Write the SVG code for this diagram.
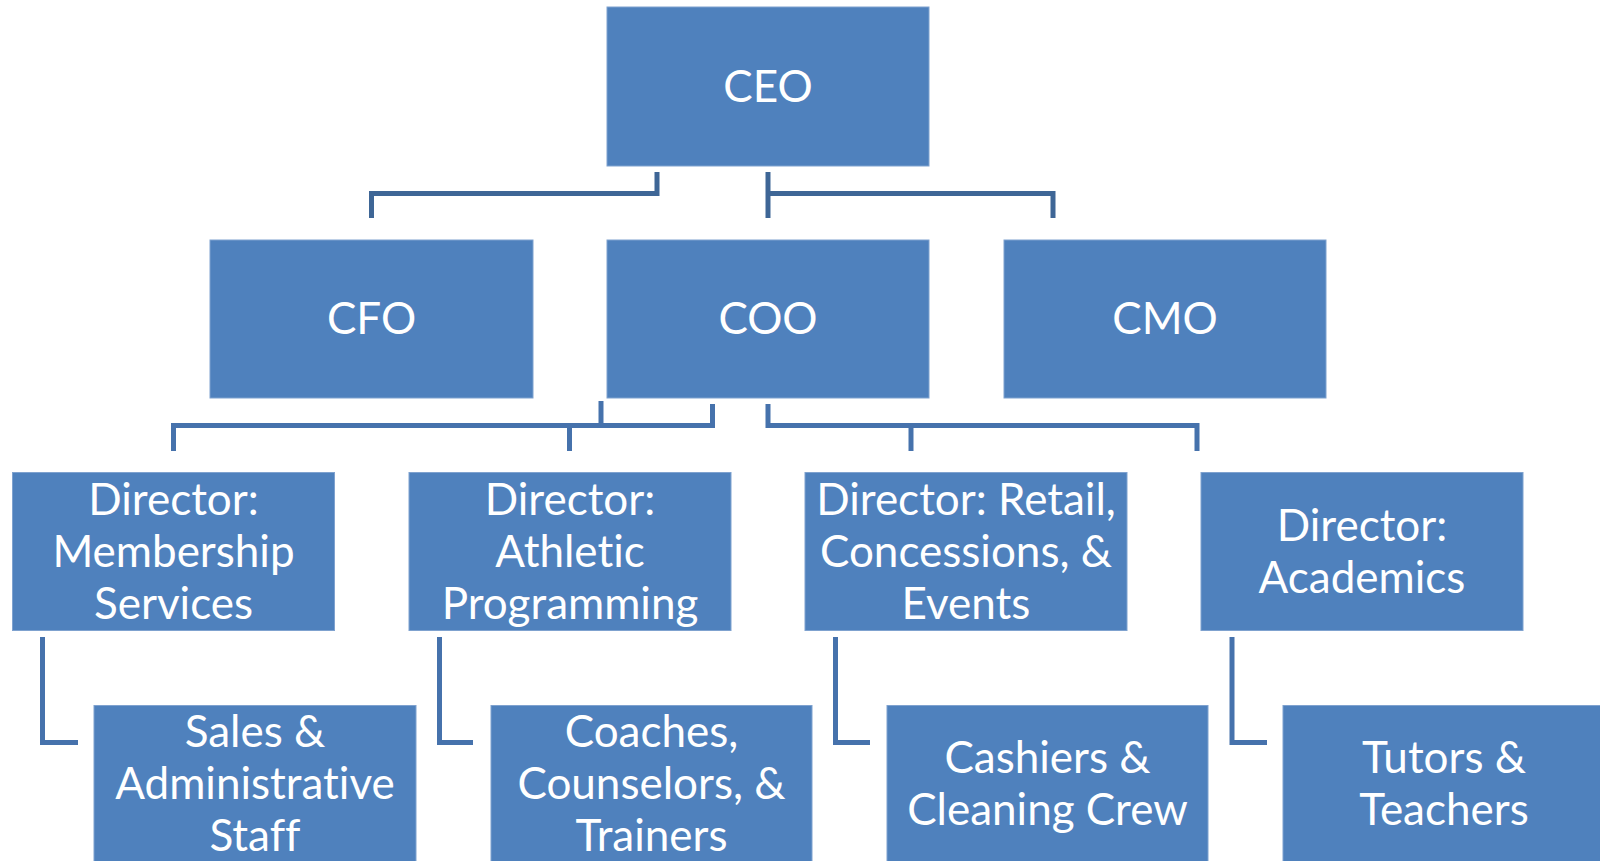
<svg xmlns="http://www.w3.org/2000/svg" width="1600" height="861" viewBox="0 0 1600 861">
<style>
.box{fill:#4F81BD;stroke:#7FA2CF;stroke-width:1}
.t{font-family:Lato,"Open Sans","Liberation Sans",sans-serif;font-size:44px;fill:#FFFFFF;text-anchor:middle;font-variant-ligatures:none;font-feature-settings:"liga" 0,"clig" 0}
.c1{fill:none;stroke:#3E6696;stroke-width:5;stroke-linejoin:miter;stroke-linecap:butt}
.c2{fill:none;stroke:#4672AC;stroke-width:5;stroke-linejoin:miter;stroke-linecap:butt}
</style>
<rect width="1600" height="861" fill="#FFFFFF"/>
<g id="connectors">
<path class="c1" d="M657,172 V193.5 H371.5 V218"/>
<path class="c1" d="M768,172 V218"/>
<path class="c1" d="M768,193.5 H1053 V218"/>
<path class="c2" d="M601,401 V425.5"/>
<path class="c2" d="M712.5,404 V425.5 H173.5 V451"/>
<path class="c2" d="M569.5,425.5 V451"/>
<path class="c2" d="M768,404 V425.5 H1197 V451"/>
<path class="c2" d="M911,425.5 V451"/>
<path class="c2" d="M42.5,637 V742.5 H78"/>
<path class="c2" d="M439.5,637 V742.5 H473"/>
<path class="c2" d="M835.5,637 V742.5 H870"/>
<path class="c2" d="M1232,637 V742.5 H1267"/>
</g>
<g id="ceo"><rect class="box" x="607" y="7" width="322" height="159"/><text class="t" x="768" y="101.5">CEO</text></g>
<g id="cfo"><rect class="box" x="210" y="240" width="323" height="158"/><text class="t" x="371.5" y="334">CFO</text></g>
<g id="coo"><rect class="box" x="607" y="240" width="322" height="158"/><text class="t" x="768" y="334">COO</text></g>
<g id="cmo"><rect class="box" x="1004" y="240" width="322" height="158"/><text class="t" x="1165" y="334">CMO</text></g>
<g id="dir-membership"><rect class="box" x="12.5" y="472.5" width="322" height="158"/><text class="t" x="173.5"><tspan x="173.5" y="514.5">Director:</tspan><tspan x="173.5" y="566.5">Membership</tspan><tspan x="173.5" y="618.5">Services</tspan></text></g>
<g id="dir-athletic"><rect class="box" x="409" y="472.5" width="322" height="158"/><text class="t" x="570"><tspan x="570" y="514.5">Director:</tspan><tspan x="570" y="566.5">Athletic</tspan><tspan x="570" y="618.5">Programming</tspan></text></g>
<g id="dir-retail"><rect class="box" x="805" y="472.5" width="322" height="158"/><text class="t" x="966"><tspan x="966" y="514.5">Director: Retail,</tspan><tspan x="966" y="566.5">Concessions, &amp;</tspan><tspan x="966" y="618.5">Events</tspan></text></g>
<g id="dir-academics"><rect class="box" x="1201" y="472.5" width="322" height="158"/><text class="t" x="1362"><tspan x="1362" y="540.5">Director:</tspan><tspan x="1362" y="592.5">Academics</tspan></text></g>
<g id="sales"><rect class="box" x="94" y="705.5" width="322" height="158"/><text class="t" x="255"><tspan x="255" y="747">Sales &amp;</tspan><tspan x="255" y="799">Administrative</tspan><tspan x="255" y="851">Staff</tspan></text></g>
<g id="coaches"><rect class="box" x="491" y="705.5" width="321" height="158"/><text class="t" x="651.5"><tspan x="651.5" y="747">Coaches,</tspan><tspan x="651.5" y="799">Counselors, &amp;</tspan><tspan x="651.5" y="851">Trainers</tspan></text></g>
<g id="cashiers"><rect class="box" x="887" y="705.5" width="321" height="158"/><text class="t" x="1047.5"><tspan x="1047.5" y="773">Cashiers &amp;</tspan><tspan x="1047.5" y="825">Cleaning Crew</tspan></text></g>
<g id="tutors"><rect class="box" x="1283" y="705.5" width="322" height="158"/><text class="t" x="1444"><tspan x="1444" y="773">Tutors &amp;</tspan><tspan x="1444" y="825">Teachers</tspan></text></g>
</svg>
